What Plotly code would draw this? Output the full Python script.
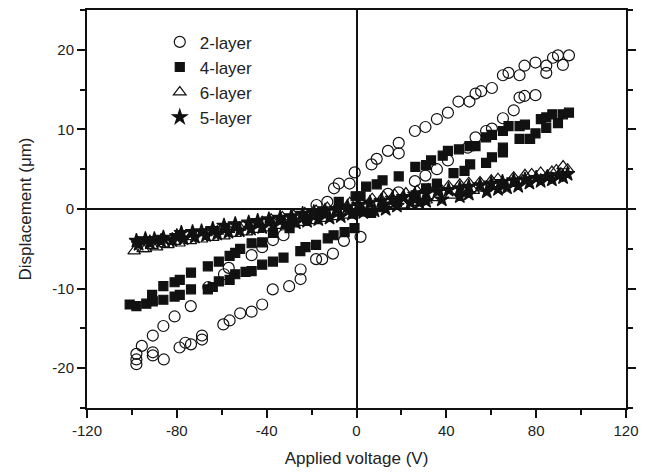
import plotly.graph_objects as go

# 2-layer actuator (open circles), both sweep branches
v2 = [-98, -98, -98, -95.6, -90.7, -86, -81, -73.8, -66, -59, -56.9, -46.7, -42, -37.2, -32.5,
      -17.8, -13, -10, -7.9, -3.1, -0.8, 6.7, 9, 14, 18.8, 18.8, 26, 30.7, 35.8, 40.7, 45.4,
      50.3, 53, 55.5, 60.3, 65.2, 67.7, 72.6, 74.8, 79.7, 84.5, 84.5, 87.5, 89.7, 91.9, 94.6,
      79.7, 74.8, 72.6, 70, 65.2, 60.3, 57.7, 53, 49.5, 40.7, 35.8, 30.7, 26, 18.7, 14,
      1.8, -5.6, -10.5, -15.3, -18, -24.9, -24.9, -30, -37.3, -42, -46.7, -51.8, -56.5, -59.3,
      -68.8, -68.8, -73.7, -76.2, -78.8, -85.8, -90.7, -90.7]
d2 = [-19.5, -18.9, -18.2, -17.2, -15.9, -14.7, -13.5, -12.2, -9.8, -8.2, -7.4, -5.8, -4.8, -3.9, -3.3,
      0.5, 0.9, 2.6, 3.2, 3.2, 4.6, 5.6, 6.3, 7.3, 7.0, 8.3, 9.8, 10.3, 11.3, 12.1, 13.5,
      13.5, 14.5, 14.8, 15.2, 16.8, 17.1, 16.8, 18.0, 18.4, 18.0, 17.1, 19.0, 19.3, 18.1, 19.3,
      14.3, 14.2, 14.0, 12.4, 11.4, 10.1, 9.8, 9.0, 7.7, 6.1, 5.0, 4.2, 3.5, 2.1, 1.9,
      -3.5, -4.0, -5.6, -6.3, -6.3, -7.6, -8.8, -9.7, -10.1, -12.0, -12.9, -13.1, -14.0, -14.5,
      -15.9, -16.4, -17.0, -16.8, -17.4, -18.9, -18.4, -18.0]

# 4-layer actuator (filled squares)
v4 = [-101, -98, -91, -86, -81, -78.7, -73.7, -66.2, -61.3, -56.5, -54, -51.8, -46.7, -42, -37.2,
      -29.8, -22, -15, -7.9, -0.4, 1.8, 4.3, 9, 11.6, 18.8, 26.2, 31, 33.2, 38.4, 40.7, 45.6,
      50.3, 53, 57.7, 60.3, 65.2, 67.7, 72.6, 75, 82.1, 84.5, 87.2, 91.9, 94.6,
      89.7, 84.5, 79.7, 77.3, 72.6, 65.2, 65.2, 60.3, 57.7, 50.6, 48.1, 43.2, 35.8, 31, 26.3,
      18, 12, 6.5, 1.3, -0.9, -5.3, -10.2, -12.8, -18, -22.7, -25, -32.5, -37.2, -42, -46.7,
      -49.4, -54, -56.5, -61.3, -64, -66.2, -73.7, -78.7, -81, -86, -90.7, -93.6]
d4 = [-12.0, -12.2, -10.8, -9.7, -9.2, -8.9, -8.0, -7.2, -6.6, -5.9, -5.5, -5.0, -4.3, -4.2, -3.0,
      -2.4, -1.2, -0.3, 0.9, 1.6, 1.6, 2.8, 3.1, 3.6, 4.1, 5.3, 5.5, 6.1, 6.7, 7.3, 7.5,
      7.9, 7.9, 9.0, 9.3, 9.8, 10.4, 10.4, 10.6, 11.3, 11.5, 11.9, 11.9, 12.1,
      10.8, 10.2, 9.5, 8.8, 8.8, 7.7, 7.1, 6.5, 5.8, 5.6, 4.8, 4.5, 3.2, 2.6, 1.7,
      0.9, 0.3, -0.5, -0.3, -2.4, -2.9, -3.3, -3.7, -4.5, -4.8, -5.3, -6.1, -6.6, -7.0, -7.8,
      -7.9, -8.2, -8.9, -9.1, -9.8, -10.1, -10.1, -10.8, -11.0, -11.4, -11.6, -11.9]

# 6-layer actuator (open triangles)
v6 = [-99, -95, -91, -86, -81, -74, -67, -62, -57, -52, -47, -42, -38, -33, -28, -23, -18, -13,
      -8, -3, 2, 7, 12, 17, 22, 27, 32, 37, 41, 46, 50, 55, 60, 63, 70, 75, 78, 82, 87, 89, 92, 94,
      91, 85, 80, 74, 68, 62, 57, 52, 47, 42, 36, 31, 26, 21, 16, 11, 6, 1, -4, -9, -14, -19,
      -24, -29, -34, -39, -44, -49, -54, -59, -64, -69, -74, -79, -84, -89, -94]
d6 = [-5.3, -5.0, -4.6, -4.4, -4.1, -3.5, -3.0, -2.8, -2.6, -2.3, -2.0, -1.6, -1.3, -1.0, -0.8, -0.5, -0.2, 0.2,
      0.5, 0.8, 1.0, 1.3, 1.6, 1.8, 2.0, 2.3, 2.5, 2.7, 2.9, 3.1, 3.3, 3.4, 3.6, 3.8, 4.0, 4.3, 4.4, 4.6, 4.7, 4.9, 5.4, 5.0,
      4.5, 4.2, 3.9, 3.6, 3.2, 2.9, 2.6, 2.3, 2.0, 1.7, 1.4, 1.1, 0.8, 0.5, 0.3, 0.0, -0.3, -0.5, -0.8, -1.0, -1.2, -1.5,
      -1.7, -1.9, -2.1, -2.4, -2.6, -2.9, -3.1, -3.4, -3.6, -3.8, -4.0, -4.3, -4.5, -4.8, -5.0]

# 5-layer actuator (filled stars)
v5 = [-98, -94, -90, -86, -80, -78, -73, -69, -64, -59, -54, -48, -44, -39, -34, -29, -24, -19, -14, -9,
      -4, 1, 6, 11, 16, 21, 26, 31, 36, 41, 46, 50, 55, 60, 65, 70, 75, 80, 85, 90, 94,
      92, 87, 82, 77, 72, 67, 63, 58, 50, 46, 38, 31, 28, 24, 18, 13, 8, 3, -2, -7, -12, -17,
      -22, -27, -32, -37, -42, -47, -52, -57, -62, -67, -72, -77, -82, -87, -92, -97]
d5 = [-4.0, -3.8, -3.8, -3.6, -3.4, -3.0, -2.9, -2.8, -2.5, -2.1, -1.9, -1.7, -1.5, -1.3, -1.1, -0.9, -0.6, -0.4, -0.2, 0.0,
      0.3, 0.5, 0.8, 1.0, 1.3, 1.5, 1.8, 2.0, 2.2, 2.4, 2.6, 2.8, 3.0, 3.2, 3.4, 3.6, 3.7, 3.9, 4.0, 4.2, 4.4,
      4.0, 3.7, 3.5, 3.3, 2.9, 2.7, 2.5, 2.2, 1.9, 1.6, 1.2, 1.0, 0.8, 0.8, 0.4, 0.0, -0.2, -0.4, -0.6, -0.9, -1.1, -1.3,
      -1.5, -1.7, -1.9, -2.1, -2.3, -2.5, -2.7, -2.9, -3.1, -3.3, -3.5, -3.7, -3.9, -4.0, -4.2, -4.4]

x_ticks = [-120, -80, -40, 0, 40, 80, 120]
y_ticks = [-20, -10, 0, 10, 20]

FONT = "Liberation Sans, Arial"
INK = "#111111"

fig = go.Figure()
series = [
    ("2-layer", v2, d2, "circle-open", 11),
    ("4-layer", v4, d4, "square", 9),
    ("6-layer", v6, d6, "triangle-up-open", 11),
    ("5-layer", v5, d5, "star", 11),
]
for name, xs, ys, sym, sz in series:
    fig.add_trace(go.Scatter(
        x=xs, y=ys, mode="markers", name=name,
        marker=dict(symbol=sym, size=sz, color=INK, line=dict(color=INK, width=1.2)),
    ))

axis_common = dict(
    showline=True, linecolor=INK, linewidth=2, mirror="ticks",
    ticks="outside", ticklen=8, tickwidth=2, tickcolor=INK,
    showgrid=False, zeroline=True, zerolinecolor=INK, zerolinewidth=2,
    automargin=False,
    tickfont=dict(family=FONT, size=15, color="#222222"),
)

# plain hyphen minus signs, as in the original figure
fig.update_xaxes(
    range=[-120, 120], tickvals=x_ticks, ticktext=[str(t) for t in x_ticks],
    minor=dict(dtick=20, ticks="outside", ticklen=5, tickwidth=1.5, tickcolor=INK),
    title=dict(text="Applied voltage (V)", standoff=14,
               font=dict(family=FONT, size=17, color="#222222")),
    **axis_common,
)
fig.update_yaxes(
    range=[-25, 25], tickvals=y_ticks, ticktext=[str(t) for t in y_ticks],
    minor=dict(dtick=5, ticks="outside", ticklen=5, tickwidth=1.5, tickcolor=INK),
    title=dict(text="Displacement (μm)", standoff=16,
               font=dict(family=FONT, size=17, color="#222222")),
    **axis_common,
)

# page body adds an 8px offset, so the figure is sized to fit inside 649x472
fig.update_layout(
    width=641, height=464,
    margin=dict(l=79, r=23, t=2, b=64),
    paper_bgcolor="white", plot_bgcolor="white",
    legend=dict(x=0.135, y=0.964, xanchor="left", yanchor="top",
                bgcolor="rgba(0,0,0,0)",
                font=dict(family=FONT, size=17, color="#222222")),
)

fig.write_html("out.html")
